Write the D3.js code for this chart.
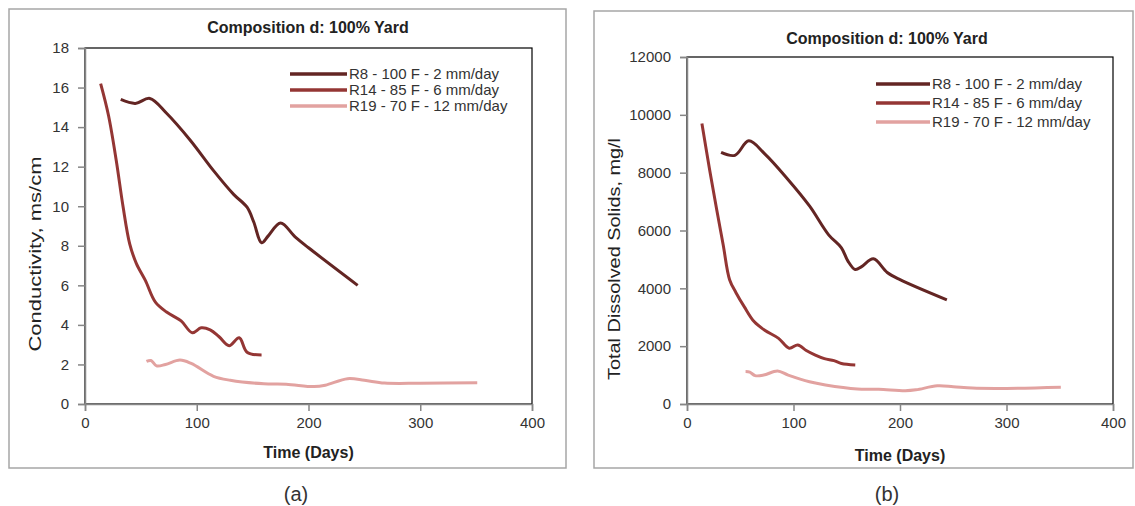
<!DOCTYPE html>
<html>
<head>
<meta charset="utf-8">
<script src="https://cdn.jsdelivr.net/npm/d3@7"></script>
<style>
    body { margin: 0; background: #fff; }
    svg { display: block; font-family: "Liberation Sans", Arial, sans-serif; }
</style>
</head>
<body>
<svg id="chart" width="1135" height="506"></svg>
<script>
// Data.

const seriesNames = ['R8 - 100 F - 2 mm/day', 'R14 - 85 F - 6 mm/day', 'R19 - 70 F - 12 mm/day'];
const seriesColors = ['#632523', '#943634', '#e2a2a0'];

const r8Days = [32, 45, 58, 73, 94, 115, 133, 145, 151, 158, 164, 175, 188, 200, 244];
const r8Conductivity = [15.4, 15.2, 15.45, 14.7, 13.35, 11.8, 10.6, 9.95, 9.2, 8.15, 8.5, 9.15, 8.45, 7.9, 6.0];
const r8Tds = [8700, 8600, 9100, 8650, 7800, 6850, 5850, 5400, 4950, 4650, 4750, 5020, 4550, 4300, 3600];

const r14Days = [14, 21, 28, 34, 40, 46, 54, 63, 73, 86, 96, 104, 112, 120, 129, 138, 145, 158];
const r14Conductivity = [16.2, 14.6, 12.3, 10.0, 8.1, 7.1, 6.25, 5.15, 4.65, 4.2, 3.6, 3.85, 3.75, 3.4, 2.95, 3.35, 2.62, 2.48];
const r14Tds = [9700, 8150, 6700, 5500, 4300, 3850, 3350, 2850, 2550, 2270, 1930, 2040, 1850, 1700, 1570, 1500, 1400, 1350];

const r19Days = [55, 59, 64, 72, 85, 95, 115, 130, 160, 180, 205, 215, 235, 250, 268, 300, 351];
const r19Conductivity = [2.15, 2.2, 1.93, 2.0, 2.22, 2.05, 1.4, 1.2, 1.02, 1.0, 0.88, 0.95, 1.28, 1.2, 1.06, 1.05, 1.07];
const r19Tds = [1120, 1100, 980, 1000, 1140, 1000, 770, 660, 520, 510, 460, 490, 630, 600, 550, 540, 580];

const dayTicks = [0, 100, 200, 300, 400];
const conductivityTicks = [0, 2, 4, 6, 8, 10, 12, 14, 16, 18];
const tdsTicks = [0, 2000, 4000, 6000, 8000, 10000, 12000];

const svg = d3.select('#chart');

// Function to draw one panel
function drawPanel(p) {
    const g = svg.append('g');

    // outer frame
    g.append('rect')
        .attr('x', p.frame[0]).attr('y', p.frame[1])
        .attr('width', p.frame[2]).attr('height', p.frame[3])
        .attr('fill', '#fff')
        .attr('stroke', '#a6a6a6')
        .attr('stroke-width', 1.5);

    const x = d3.scaleLinear().domain([0, 400]).range([p.left, p.right]);
    const y = d3.scaleLinear().domain([0, d3.max(p.yTicks)]).range([p.bottom, p.top]);

    // plot area border (top/right show black)
    g.append('rect')
        .attr('x', p.left).attr('y', p.top)
        .attr('width', p.right - p.left).attr('height', p.bottom - p.top)
        .attr('fill', 'none')
        .attr('stroke', '#000')
        .attr('stroke-width', 1.2);

    // axes
    const xAxis = g.append('g')
        .attr('transform', `translate(0,${p.bottom})`)
        .call(d3.axisBottom(x).tickValues(dayTicks).tickSize(7).tickPadding(6).tickFormat(d3.format('d')));
    const yAxis = g.append('g')
        .attr('transform', `translate(${p.left},0)`)
        .call(d3.axisLeft(y).tickValues(p.yTicks).tickSize(7).tickPadding(9).tickFormat(d3.format('d')));

    [xAxis, yAxis].forEach(a => {
        a.select('.domain').attr('stroke', '#868686').attr('stroke-width', 1.5);
        a.selectAll('.tick line').attr('stroke', '#868686').attr('stroke-width', 1.5);
        a.selectAll('.tick text')
            .attr('fill', '#333')
            .style('font-size', '15px')
            .style('font-family', '"Liberation Sans", Arial, sans-serif');
    });

    // lines
    const line = d3.line()
        .x(d => x(d[0]))
        .y(d => y(d[1]))
        .curve(d3.curveCatmullRom.alpha(0.5));

    p.series.forEach((s, i) => {
        g.append('path')
            .datum(d3.zip(s.days, s.values))
            .attr('fill', 'none')
            .attr('stroke', seriesColors[i])
            .attr('stroke-width', 3)
            .attr('stroke-linejoin', 'round')
            .attr('d', line);
    });

    // legend
    seriesNames.forEach((name, i) => {
        const ly = p.legend.y + i * p.legend.dy;
        g.append('line')
            .attr('x1', p.legend.x1).attr('x2', p.legend.x2)
            .attr('y1', ly).attr('y2', ly)
            .attr('stroke', seriesColors[i])
            .attr('stroke-width', 3.5);
        g.append('text')
            .attr('x', p.legend.x2 + 2).attr('y', ly)
            .attr('dy', '0.35em')
            .attr('fill', '#333')
            .style('font-size', '15px')
            .text(name);
    });

    // titles
    g.append('text')
        .attr('x', p.titleX).attr('y', p.titleY)
        .attr('dy', '0.35em')
        .attr('text-anchor', 'middle')
        .attr('font-weight', 'bold')
        .attr('fill', '#222')
        .style('font-size', '16px')
        .text('Composition d: 100% Yard');

    g.append('text')
        .attr('x', (p.left + p.right) / 2).attr('y', p.xTitleY)
        .attr('dy', '0.35em')
        .attr('text-anchor', 'middle')
        .attr('font-weight', 'bold')
        .attr('fill', '#222')
        .style('font-size', '16px')
        .text('Time (Days)');

    g.append('text')
        .attr('transform', `translate(${p.yTitleX},${p.yTitleY}) rotate(-90)`)
        .attr('dy', '0.35em')
        .attr('text-anchor', 'middle')
        .attr('fill', '#222')
        .attr('textLength', p.yTitleLen)
        .attr('lengthAdjust', 'spacingAndGlyphs')
        .style('font-size', '17px')
        .text(p.yTitle);

    svg.append('text')
        .attr('x', p.captionX).attr('y', 494)
        .attr('dy', '0.35em')
        .attr('text-anchor', 'middle')
        .attr('fill', '#333')
        .style('font-size', '20px')
        .text(p.caption);
}

drawPanel({
    frame: [9, 9, 557, 459],
    left: 85, right: 532, top: 48, bottom: 404,
    yTicks: conductivityTicks,
    series: [
        { days: r8Days, values: r8Conductivity },
        { days: r14Days, values: r14Conductivity },
        { days: r19Days, values: r19Conductivity }
    ],
    legend: { x1: 290, x2: 347, y: 74, dy: 16 },
    titleX: 308, titleY: 27,
    xTitleY: 452,
    yTitle: 'Conductivity, ms/cm', yTitleX: 35, yTitleY: 254, yTitleLen: 195,
    caption: '(a)', captionX: 296
});

drawPanel({
    frame: [594, 11, 539, 457],
    left: 687, right: 1113, top: 57, bottom: 404,
    yTicks: tdsTicks,
    series: [
        { days: r8Days, values: r8Tds },
        { days: r14Days, values: r14Tds },
        { days: r19Days, values: r19Tds }
    ],
    legend: { x1: 876, x2: 930, y: 84, dy: 19 },
    titleX: 887, titleY: 38,
    xTitleY: 455,
    yTitle: 'Total  Dissolved Solids, mg/l', yTitleX: 614, yTitleY: 259, yTitleLen: 242,
    caption: '(b)', captionX: 887
});
</script>
</body>
</html>
